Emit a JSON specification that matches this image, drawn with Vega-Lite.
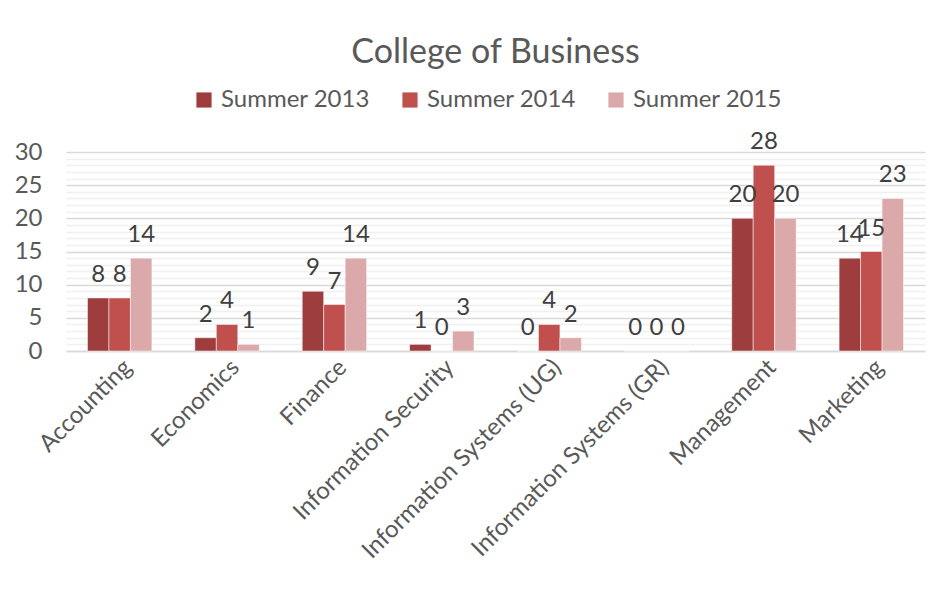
{
  "$schema": "https://vega.github.io/schema/vega-lite/v6.json",
  "width": 859,
  "height": 199,
  "padding": {"left": 14, "top": 36, "right": 5, "bottom": 5},
  "config": {
    "font": "Lato",
    "view": {"stroke": null},
    "text": {"font": "Lato"}
  },
  "title": {
    "text": "College of Business",
    "fontSize": 34,
    "font": "Lato",
    "fontWeight": "normal",
    "color": "#595959",
    "offset": 18
  },
  "data": {
    "values": [
      {"dept": "Accounting", "year": "Summer 2013", "value": 8},
      {"dept": "Accounting", "year": "Summer 2014", "value": 8},
      {"dept": "Accounting", "year": "Summer 2015", "value": 14},
      {"dept": "Economics", "year": "Summer 2013", "value": 2},
      {"dept": "Economics", "year": "Summer 2014", "value": 4},
      {"dept": "Economics", "year": "Summer 2015", "value": 1},
      {"dept": "Finance", "year": "Summer 2013", "value": 9},
      {"dept": "Finance", "year": "Summer 2014", "value": 7},
      {"dept": "Finance", "year": "Summer 2015", "value": 14},
      {"dept": "Information Security", "year": "Summer 2013", "value": 1},
      {"dept": "Information Security", "year": "Summer 2014", "value": 0},
      {"dept": "Information Security", "year": "Summer 2015", "value": 3},
      {"dept": "Information Systems (UG)", "year": "Summer 2013", "value": 0},
      {"dept": "Information Systems (UG)", "year": "Summer 2014", "value": 4},
      {"dept": "Information Systems (UG)", "year": "Summer 2015", "value": 2},
      {"dept": "Information Systems (GR)", "year": "Summer 2013", "value": 0},
      {"dept": "Information Systems (GR)", "year": "Summer 2014", "value": 0},
      {"dept": "Information Systems (GR)", "year": "Summer 2015", "value": 0},
      {"dept": "Management", "year": "Summer 2013", "value": 20},
      {"dept": "Management", "year": "Summer 2014", "value": 28},
      {"dept": "Management", "year": "Summer 2015", "value": 20},
      {"dept": "Marketing", "year": "Summer 2013", "value": 14},
      {"dept": "Marketing", "year": "Summer 2014", "value": 15},
      {"dept": "Marketing", "year": "Summer 2015", "value": 23}
    ]
  },
  "encoding": {
    "x": {
      "field": "dept",
      "type": "nominal",
      "sort": null,
      "scale": {"paddingInner": 0.4, "paddingOuter": 0.2},
      "axis": {
        "title": null,
        "labelAngle": -45,
        "labelAlign": "right",
        "labelBaseline": "top",
        "labelFontSize": 24,
        "labelColor": "#595959",
        "labelPadding": 4,
        "ticks": false,
        "domainColor": "#D9D9D9",
        "domainWidth": 1.5,
        "labelLimit": 500
      }
    },
    "y": {
      "field": "value",
      "type": "quantitative",
      "scale": {"domain": [0, 30]},
      "axis": {
        "title": null,
        "values": [0,1,2,3,4,5,6,7,8,9,10,11,12,13,14,15,16,17,18,19,20,21,22,23,24,25,26,27,28,29,30],
        "labelExpr": "datum.value % 5 === 0 ? datum.label : ''",
        "gridColor": {"condition": {"test": "datum.value % 5 === 0", "value": "#D9D9D9"}, "value": "#F0F0F0"},
        "gridWidth": 1.5,
        "labelFontSize": 24,
        "labelColor": "#595959",
        "labelPadding": 24,
        "ticks": false,
        "domain": false
      }
    },
    "xOffset": {"field": "year", "type": "nominal"}
  },
  "layer": [
    {
      "mark": {"type": "bar", "stroke": "#FFFFFF", "strokeWidth": 0.5},
      "encoding": {
        "color": {
          "field": "year",
          "type": "nominal",
          "scale": {"domain": ["Summer 2013", "Summer 2014", "Summer 2015"], "range": ["#9E3D3D", "#C0504D", "#DBA9A9"]},
          "legend": {
            "title": null,
            "orient": "none",
            "direction": "horizontal",
            "legendX": 126,
            "legendY": -64,
            "symbolType": "square",
            "symbolSize": 230,
            "symbolStrokeWidth": 0,
            "labelFontSize": 24,
            "labelColor": "#595959",
            "columnPadding": 28,
            "labelOffset": 5
          }
        }
      }
    },
    {
      "mark": {"type": "text", "dy": -23, "fontSize": 24, "color": "#404040"},
      "encoding": {
        "text": {"field": "value", "type": "quantitative"}
      }
    }
  ]
}
